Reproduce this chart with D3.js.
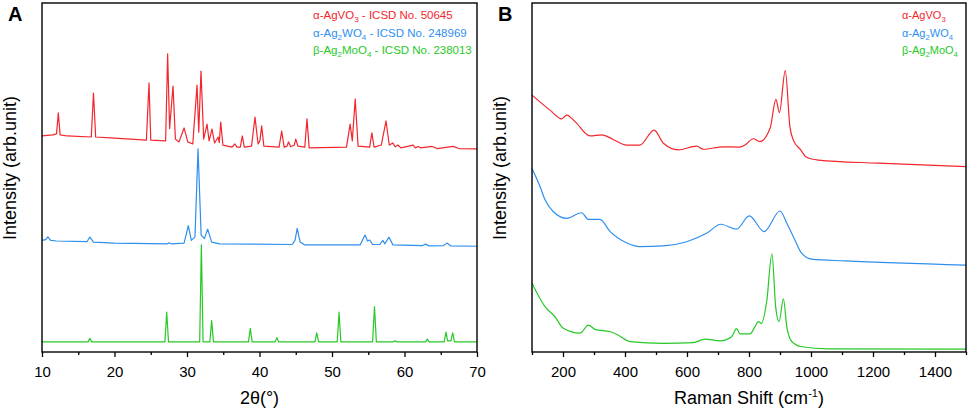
<!DOCTYPE html>
<html>
<head>
<meta charset="utf-8">
<script src="https://cdn.jsdelivr.net/npm/d3@7"></script>
<style>
  body { margin: 0; background: #fff; }
  text { font-family: "Liberation Sans", Arial, sans-serif; }
</style>
</head>
<body>
<script>
// XRD (A) and Raman (B) of the three silver salts

// ---- data (intensity in arb. units 0-100) ----
var xrdAgVO3 = [[10,61.9],[11.5,62.2],[12.0,62.5],[12.25,68.5],[12.5,62.2],[13.5,61.9],[16.8,61.6],[17.1,74.2],[17.4,61.6],
  [20,61.3],[24.4,60.7],[24.76,77.1],[25.0,60.7],[27.05,60.5],[27.33,85.4],[27.6,64],[28.07,76.2],[28.4,61],[28.9,60.2],
  [29.6,64.2],[30.1,60.2],[30.8,59.6],[31.38,76.5],[31.62,63],[31.93,80.5],[32.3,61],[32.76,65.3],[33.05,60.5],[33.45,63.9],
  [33.8,59.9],[34.3,61.6],[34.45,60],[34.65,65.9],[34.95,59.3],[36.2,58.7],[36.6,59.6],[36.9,58.7],[37.35,58.7],[37.63,61.9],
  [37.9,58.7],[38.9,59.0],[39.38,67.3],[39.8,59.6],[40.05,60.5],[40.3,64.8],[40.6,59.0],[42.7,58.7],[43.06,63.3],[43.4,58.7],
  [43.8,59.0],[44.0,60.2],[44.3,58.8],[44.8,59.3],[45.0,61.0],[45.3,59.0],[46.25,58.7],[46.55,66.8],[46.85,58.5],[52.0,58.7],
  [52.5,65.3],[52.8,60.5],[53.2,72.5],[53.6,59.0],[55.2,58.7],[55.5,62.8],[55.8,58.7],[56.8,59.3],[57.45,66.2],[57.9,59.3],
  [58.4,59.9],[58.7,58.8],[59.1,59.3],[59.5,58.5],[61.2,59.3],[61.5,58.5],[61.9,58.9],[62.2,58.5],[63.8,58.9],[64.5,58.3],
  [66.7,58.9],[67.5,58.3],[70,58.2]];

var xrdAg2WO4 = [[10,32.0],[10.5,32.2],[10.8,33.0],[11.2,32.0],[12,31.8],[16.2,31.6],[16.6,32.9],[17.1,31.5],[20,31.2],
  [27.3,31.0],[27.5,31.3],[27.8,31.0],[29.6,31.2],[30.18,36.2],[30.6,32.0],[31.1,33],[31.52,58.2],[31.95,33.5],[32.4,32.5],
  [32.85,35.2],[33.4,31.5],[34.5,31.0],[44.5,30.8],[44.9,32],[45.2,35.4],[45.6,31.5],[46.2,30.7],[53.9,30.7],[54.55,33.5],
  [54.9,31.8],[55.2,32.1],[55.6,30.8],[56.6,30.8],[57.0,32.0],[57.3,31.0],[57.86,32.9],[58.4,30.7],[62.5,30.5],[62.9,30.9],
  [63.4,30.4],[65.4,30.5],[65.86,31.2],[66.4,30.4],[70,30.3]];

var xrdAg2MoO4 = [[10,2.9],[16.35,2.9],[16.6,3.9],[16.85,2.9],[26.95,2.9],[27.2,11.4],[27.45,2.9],[31.75,2.9],[31.98,30.7],
  [32.22,2.9],[33.15,2.9],[33.4,9.0],[33.65,2.9],[38.48,2.9],[38.73,6.8],[38.98,2.9],[42.15,2.9],[42.4,4.1],[42.65,2.9],
  [47.65,2.9],[47.9,5.5],[48.15,2.9],[50.72,2.9],[50.97,11.4],[51.22,2.9],[55.6,2.9],[55.86,13.0],[56.12,2.9],[58.45,2.9],
  [58.7,3.2],[58.95,2.9],[62.9,2.9],[63.15,3.7],[63.4,2.9],[65.47,2.9],[65.72,5.7],[65.95,3.2],[66.4,3.2],[66.65,5.5],
  [66.9,2.9],[70,2.9]];

var ramanAgVO3 = [[100,73.6],[158,69.3],[196,66.8],[212,67.9],[239,66.0],[287,61.9],[325,62.2],[362,60.9],[405,59.3],
  [448,59.3],[494,63.6],[524,59.8],[572,57.9],[631,59.0],[653,58.1],[717,58.8],[771,58.7],[787,59.3],[814,61.1],[835,60.3],
  [868,64.1],[887,72.4],[898,68.6],[917,80.6],[932,64.6],[943,60.7],[965,58.1],[986,55.8],[1024,55.0],[1217,54.1],[1500,53.1]];

var ramanAg2WO4 = [[100,52.6],[126,47.4],[142,43.6],[169,40.2],[212,38.3],[260,39.9],[282,38.0],[319,38.0],[352,34.5],
  [405,31.3],[448,30.2],[524,30.4],[599,31.6],[663,34.0],[709,36.6],[760,35.2],[801,39.0],[849,34.5],[900,40.4],[922,36.9],
  [948,32.1],[970,28.3],[1002,26.6],[1110,26.1],[1500,24.9]];

var ramanAg2MoO4 = [[100,19.7],[142,13.0],[174,10.1],[201,6.8],[255,5.4],[282,7.7],[303,6.5],[352,5.8],[373,5.1],[416,3.0],
  [524,2.5],[620,2.7],[658,3.7],[706,3.2],[744,4.4],[760,6.7],[771,5.2],[803,5.2],[819,7.2],[830,8.7],[840,8.2],[857,14.4],
  [874,28.1],[886,13.0],[897,8.7],[911,15.2],[922,7.2],[938,3.0],[970,1.5],[1056,0.9],[1500,0.8]];

var colors = ["#f2262c", "#2f8fee", "#27c927"];

// legend entries, [text, isSubscript] pieces
var xrdLegend = [
  [["α-AgVO", 0], ["3", 1], [" - ICSD No. 50645", 0]],
  [["α-Ag", 0], ["2", 1], ["WO", 0], ["4", 1], [" - ICSD No. 248969", 0]],
  [["β-Ag", 0], ["2", 1], ["MoO", 0], ["4", 1], [" - ICSD No. 238013", 0]]
];
var ramanLegend = [
  [["α-AgVO", 0], ["3", 1]],
  [["α-Ag", 0], ["2", 1], ["WO", 0], ["4", 1]],
  [["β-Ag", 0], ["2", 1], ["MoO", 0], ["4", 1]]
];

var xrdTicks = [10, 20, 30, 40, 50, 60, 70],
    xrdMinor = [15, 25, 35, 45, 55, 65],
    ramanTicks = [200, 400, 600, 800, 1000, 1200, 1400],
    ramanMinor = [100, 300, 500, 700, 900, 1100, 1300, 1500];

// ---- layout ----
var W = 969, H = 411;
var plotTop = 3, plotBottom = 352;

var svg = d3.select("body").append("svg")
    .attr("width", W)
    .attr("height", H);

var y = d3.scaleLinear().domain([0, 100]).range([plotBottom, plotTop]);

var xA = d3.scaleLinear().domain([10, 70]).range([42, 477]),
    xB = d3.scaleLinear().domain([100, 1500]).range([532, 966]);

function drawPanel(x, series, curve, ticks, minor, letter, xTitle, legend, legendX, legendSize, labelX) {
  var g = svg.append("g");
  var r = x.range();

  var line = d3.line()
      .curve(curve)
      .x(function(d) { return x(d[0]); })
      .y(function(d) { return y(d[1]); });

  series.forEach(function(s, i) {
    g.append("path")
      .datum(s)
      .attr("fill", "none")
      .attr("stroke", colors[i])
      .attr("stroke-width", 1.2)
      .attr("stroke-linejoin", "round")
      .attr("d", line);
  });

  // frame
  g.append("rect")
    .attr("x", r[0]).attr("y", plotTop)
    .attr("width", r[1] - r[0]).attr("height", plotBottom - plotTop)
    .attr("fill", "none")
    .attr("stroke", "#000")
    .attr("stroke-width", 1.4);

  // minor ticks first, then labelled ticks
  var minorAxis = g.append("g")
      .attr("transform", "translate(0," + plotBottom + ")")
      .call(d3.axisBottom(x).tickValues(minor).tickSize(3).tickFormat(""));
  minorAxis.select(".domain").remove();
  minorAxis.selectAll("line").attr("stroke-width", 1.3);

  var ax = g.append("g")
      .attr("transform", "translate(0," + plotBottom + ")")
      .call(d3.axisBottom(x).tickValues(ticks).tickSize(5).tickPadding(9).tickFormat(d3.format("d")));
  ax.select(".domain").remove();
  ax.selectAll("line").attr("stroke-width", 1.3);
  ax.selectAll("text")
    .style("font-family", '"Liberation Sans", Arial, sans-serif')
    .style("font-size", "15px")
    .attr("fill", "#000");

  // axis titles
  var xt = svg.append("text")
    .attr("x", (r[0] + r[1]) / 2)
    .attr("y", 404)
    .style("text-anchor", "middle")
    .style("font-size", "18px");
  xTitle(xt);

  svg.append("text")
    .attr("transform", "translate(" + labelX + ",168) rotate(-90)")
    .style("text-anchor", "middle")
    .style("font-size", "18px")
    .text("Intensity (arb.unit)");

  // panel letter
  svg.append("text")
    .attr("x", r[0] - 34)
    .attr("y", 21)
    .style("font-size", "20px")
    .style("font-weight", "bold")
    .text(letter);

  // legend
  legend.forEach(function(parts, i) {
    var t = svg.append("text")
      .attr("x", legendX)
      .attr("y", 19 + i * 17.5)
      .attr("fill", colors[i])
      .style("font-size", legendSize + "px");
    var shifted = false;
    parts.forEach(function(p) {
      var ts = t.append("tspan").text(p[0]);
      if (p[1] && !shifted) { ts.attr("dy", 3).style("font-size", (legendSize * 0.7) + "px"); shifted = true; }
      else if (p[1]) { ts.style("font-size", (legendSize * 0.7) + "px"); }
      else if (shifted) { ts.attr("dy", -3); shifted = false; }
    });
  });
}

drawPanel(xA, [xrdAgVO3, xrdAg2WO4, xrdAg2MoO4], d3.curveLinear, xrdTicks, xrdMinor, "A",
  function(t) { t.text("2θ(°)"); },
  xrdLegend, 313, 11.5, 16);

drawPanel(xB, [ramanAgVO3, ramanAg2WO4, ramanAg2MoO4], d3.curveMonotoneX, ramanTicks, ramanMinor, "B",
  function(t) {
    t.append("tspan").text("Raman Shift (cm");
    t.append("tspan").attr("dy", -7).style("font-size", "11px").text("-1");
    t.append("tspan").attr("dy", 7).text(")");
  },
  ramanLegend, 902, 11, 506);
</script>
</body>
</html>
